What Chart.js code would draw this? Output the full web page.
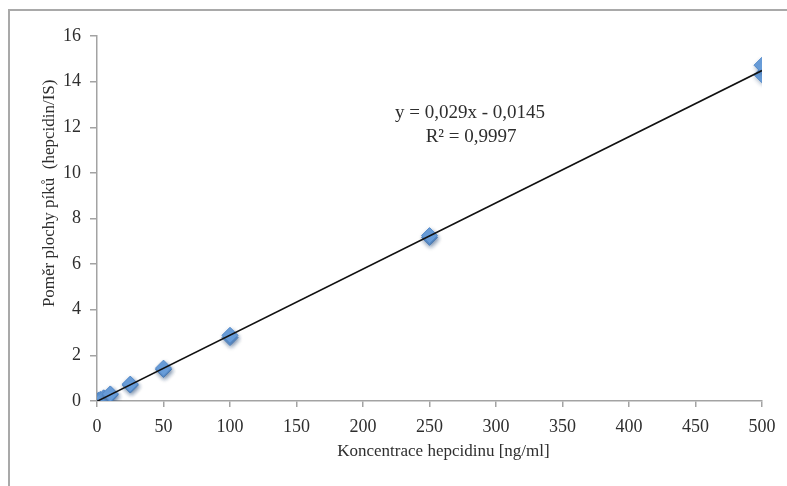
<!DOCTYPE html>
<html>
<head>
<meta charset="utf-8">
<script src="https://cdn.jsdelivr.net/npm/chart.js@4.4.0/dist/chart.umd.min.js"></script>
<style>
  html, body { margin: 0; padding: 0; background: #fff; overflow: hidden; }
  #frame { position: absolute; left: 8px; top: 9px; width: 900px; height: 700px; border: 2px solid #a9a9a9; box-sizing: border-box; }
  #wrap { position: absolute; left: 0; top: 0; width: 787px; height: 486px; }
</style>
</head>
<body>
<div id="frame"></div>
<div id="wrap"><canvas id="c" width="787" height="486"></canvas></div>
<script>
// Data
const concentrations = [0, 1, 2.5, 5, 10, 10, 25, 25, 50, 50, 100, 100, 250, 250, 500, 500];
const ratios =         [0.00, 0.03, 0.07, 0.14, 0.27, 0.31, 0.70, 0.74, 1.38, 1.44, 2.78, 2.88, 7.17, 7.25, 14.30, 14.72];
const trendX = [0, 500];
const trendY = [-0.0145, 14.4855];
const xTicks = [0, 50, 100, 150, 200, 250, 300, 350, 400, 450, 500];
const yTicks = [0, 2, 4, 6, 8, 10, 12, 14, 16];
const equationLines = ['y = 0,029x - 0,0145', 'R² = 0,9997'];
const xTitle = 'Koncentrace hepcidinu [ng/ml]';
const yTitle = 'Poměr plochy píků  (hepcidin/IS)';

const FONT = '"Liberation Serif", "Times New Roman", serif';
const AXIS = '#a3a3a3';
const TEXT = '#2e2e2e';

const textPlugin = {
  id: 'texts',
  afterDatasetsDraw(chart) {
    const ctx = chart.ctx;
    const a = chart.chartArea;
    ctx.save();
    ctx.fillStyle = TEXT;
    ctx.textAlign = 'center';
    ctx.textBaseline = 'middle';
    // trendline equation
    ctx.font = '19px ' + FONT;
    const cx = a.left + (a.right - a.left) * 0.561;
    ctx.fillText(equationLines[0], cx, a.top + 77);
    ctx.fillText(equationLines[1], cx + 1, a.top + 101);
    // axis titles
    ctx.font = '17px ' + FONT;
    ctx.fillText(xTitle, a.left + (a.right - a.left) * 0.521, a.bottom + 51);
    ctx.translate(a.left - 47, a.top + (a.bottom - a.top) * 0.431);
    ctx.rotate(-Math.PI / 2);
    ctx.fillText(yTitle, 0, 0);
    ctx.restore();
  }
};

const shadowPlugin = {
  id: 'shadow',
  beforeDatasetDraw(chart, args) {
    if (args.index === 1) {
      chart.ctx.save();
      chart.ctx.shadowColor = 'rgba(60,90,130,0.45)';
      chart.ctx.shadowBlur = 4;
      chart.ctx.shadowOffsetX = 1;
      chart.ctx.shadowOffsetY = 2;
    }
  },
  afterDatasetDraw(chart, args) {
    if (args.index === 1) chart.ctx.restore();
  }
};

new Chart(document.getElementById('c'), {
  type: 'scatter',
  data: {
    datasets: [
      {
        type: 'line',
        data: trendX.map((x, i) => ({ x, y: trendY[i] })),
        borderColor: '#111',
        borderWidth: 1.6,
        pointRadius: 0,
        fill: false,
        order: 0
      },
      {
        data: concentrations.map((x, i) => ({ x, y: ratios[i] })),
        pointStyle: 'rectRot',
        pointRadius: 8,
        backgroundColor: '#6a9fdc',
        borderColor: '#5389c8',
        borderWidth: 1,
        order: 1
      }
    ]
  },
  options: {
    responsive: false,
    animation: false,
    events: [],
    layout: { padding: { left: 0, right: 25, top: 36, bottom: 0 } },
    plugins: { legend: { display: false }, tooltip: { enabled: false } },
    scales: {
      x: {
        type: 'linear',
        min: 0, max: 500,
        afterBuildTicks: s => { s.ticks = xTicks.map(v => ({ value: v })); },
        afterFit: s => { s.height = 85; },
        grid: { drawOnChartArea: false, drawTicks: true, tickLength: 6, color: AXIS, lineWidth: 1.5 },
        border: { color: AXIS, width: 1.5 },
        ticks: { color: TEXT, font: { family: FONT, size: 18 }, padding: 9, maxRotation: 0 },
        title: { display: false }
      },
      y: {
        type: 'linear',
        min: 0, max: 16,
        afterBuildTicks: s => { s.ticks = yTicks.map(v => ({ value: v })); },
        afterFit: s => { s.width = 97; },
        grid: { drawOnChartArea: false, drawTicks: true, tickLength: 7, color: AXIS, lineWidth: 1.5 },
        border: { color: AXIS, width: 1.5 },
        ticks: { color: TEXT, font: { family: FONT, size: 18 }, padding: 9 },
        title: { display: false }
      }
    }
  },
  plugins: [textPlugin, shadowPlugin]
});
</script>
</body>
</html>
